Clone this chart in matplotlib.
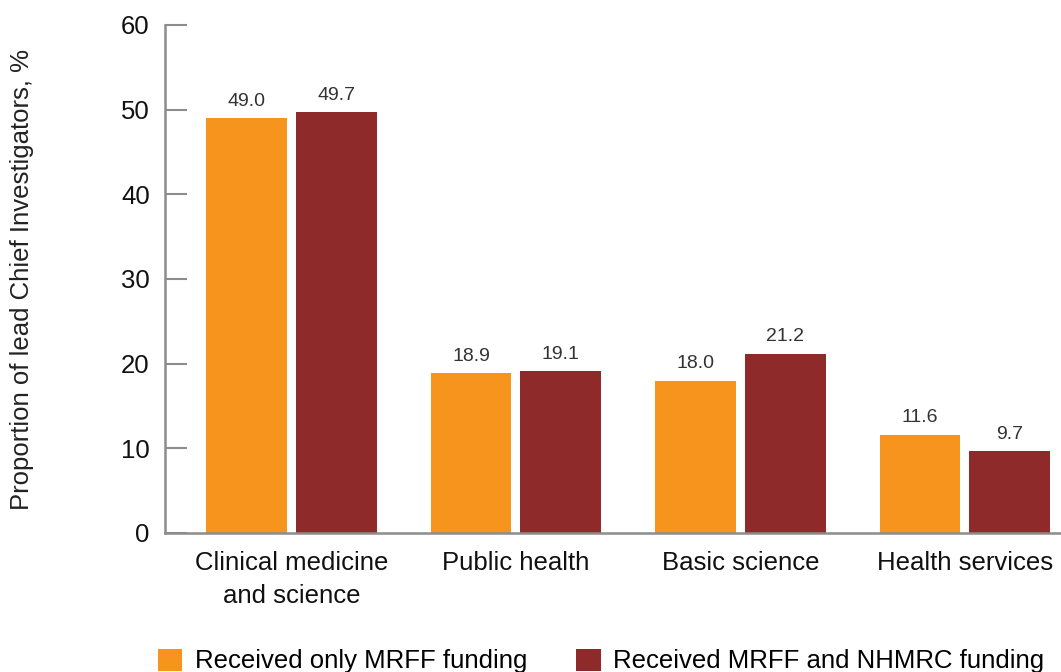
import numpy as np
import matplotlib
matplotlib.use('Agg')
import matplotlib.pyplot as plt

categories = ['Clinical medicine\nand science', 'Public health', 'Basic science', 'Health services']
mrff_only = [49.0, 18.9, 18.0, 11.6]
mrff_nhmrc = [49.7, 19.1, 21.2, 9.7]
series_names = ['Received only MRFF funding', 'Received MRFF and NHMRC funding']
y_ticks = [0, 10, 20, 30, 40, 50, 60]

plt.rcParams['font.family'] = ['Liberation Sans', 'DejaVu Sans']

orange = '#F7941D'
red = '#8E2A29'
grey = '#8C8C8C'

fig = plt.figure(figsize=(10.61, 6.72), dpi=100)
ax = fig.add_axes([165 / 1061, 1 - 533 / 672, 1 - 165 / 1061, (533 - 25) / 672])

x = np.arange(len(categories))
w = 0.36
b1 = ax.bar(x - 0.2, mrff_only, w, color=orange, label=series_names[0])
b2 = ax.bar(x + 0.2, mrff_nhmrc, w, color=red, label=series_names[1])

# value labels above bars
for bars in (b1, b2):
    for rect in bars:
        h = rect.get_height()
        ax.annotate(f'{h:.1f}', (rect.get_x() + rect.get_width() / 2, h),
                    xytext=(0, 6), textcoords='offset points',
                    ha='center', va='bottom', fontsize=14, color='#333333')

ax.set_xlim(-0.563, 3.428)
ax.set_ylim(0, 60)
ax.set_yticks(y_ticks)
ax.set_xticks(x)
ax.set_xticklabels(categories, fontsize=18.5, linespacing=1.45, color='#111111')
ax.tick_params(axis='x', length=0, pad=13)
ax.tick_params(axis='y', direction='in', length=16, width=1.5, color=grey,
               labelsize=18.5, pad=11, labelcolor='#111111')

for s in ('top', 'right'):
    ax.spines[s].set_visible(False)
for s in ('left', 'bottom'):
    ax.spines[s].set_color(grey)
    ax.spines[s].set_linewidth(1.8)

ax.set_ylabel('Proportion of lead Chief Investigators, %', fontsize=18.5,
              color='#222222')
ax.yaxis.set_label_coords((34 - 165) / 896, 0.5)

fig.legend(handles=[b1, b2], loc='center left',
           bbox_to_anchor=(150 / 1061, 1 - 661 / 672), ncol=2, frameon=False,
           fontsize=18.5, handlelength=0.95, handleheight=0.95, handletextpad=0.5,
           columnspacing=1.9, borderaxespad=0, borderpad=0.3)

fig.savefig('out.png', dpi=100)
